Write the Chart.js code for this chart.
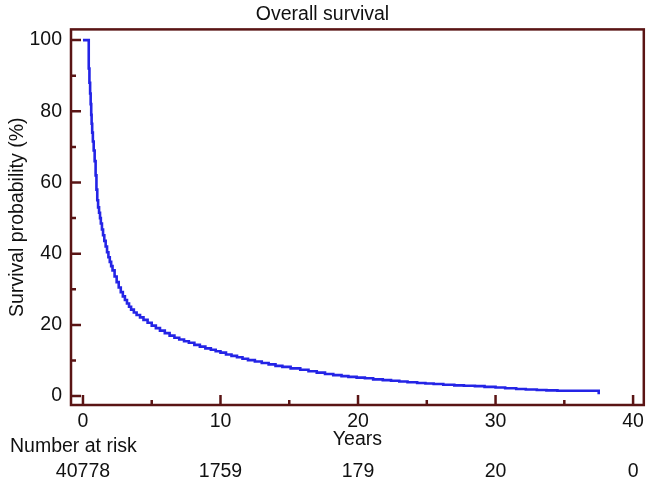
<!DOCTYPE html>
<html>
<head>
<meta charset="utf-8">
<script src="https://cdn.jsdelivr.net/npm/chart.js@4.4.1/dist/chart.umd.min.js"></script>
<style>
  html, body { margin: 0; padding: 0; background: #fff; }
  #wrap { width: 649px; height: 488px; }
</style>
</head>
<body>
<div id="wrap"><canvas id="km"></canvas></div>
<script>
// Kaplan-Meier curve (years, survival %)
const years = [0, 0.42, 0.47, 0.52, 0.56, 0.6, 0.63, 0.67, 0.72, 0.78, 0.85, 0.92, 0.98, 1.04, 1.1,
  1.17, 1.24, 1.3, 1.38, 1.46, 1.55, 1.65, 1.75, 1.85, 1.95, 2.05, 2.15, 2.3, 2.45, 2.6, 2.75,
  2.9, 3.05, 3.2, 3.35, 3.5, 3.7, 3.9, 4.15, 4.4, 4.7, 5.0, 5.3, 5.6, 5.95, 6.3, 6.65, 7.0,
  7.35, 7.7, 8.1, 8.5, 8.9, 9.3, 9.65, 10.0, 10.4, 10.8, 11.2, 11.6, 12.0, 12.5, 13.0, 13.5,
  14.0, 14.5, 15.1, 15.8, 16.4, 17.0, 17.6, 18.2, 18.8, 19.3, 19.9, 20.5, 21.1, 21.8, 22.4,
  23.0, 23.6, 24.3, 24.9, 25.5, 26.2, 27.0, 27.7, 28.5, 29.2, 30.0, 30.7, 31.5, 32.2, 33.0,
  33.7, 34.5, 37.5, 37.5];
const survival = [100, 92, 88, 85, 82, 79, 76.5, 74, 71.5, 69, 66, 62, 58, 55, 53,
  51.5, 50, 48.5, 46.8, 45.2, 43.6, 42, 40.4, 39, 37.7, 36.5, 35.3, 33.6, 32, 30.5, 29.2,
  28, 27, 26, 25.1, 24.3, 23.5, 22.8, 22.1, 21.4, 20.6, 19.8, 19.1, 18.4, 17.7, 17.0, 16.4, 15.9,
  15.4, 15.0, 14.4, 13.9, 13.4, 13.0, 12.6, 12.2, 11.7, 11.3, 10.9, 10.5, 10.1, 9.7, 9.3, 8.9,
  8.5, 8.2, 7.8, 7.4, 7.0, 6.6, 6.2, 5.9, 5.6, 5.4, 5.2, 5.0, 4.7, 4.5, 4.3,
  4.1, 3.9, 3.7, 3.55, 3.4, 3.2, 3.0, 2.9, 2.8, 2.6, 2.4, 2.2, 2.0, 1.85, 1.7,
  1.6, 1.5, 1.5, 0.5];

const xTicks = [0, 10, 20, 30, 40];
const yTicks = [0, 20, 40, 60, 80, 100];

// number at risk table
const riskYears = [0, 10, 20, 30, 40];
const riskCounts = [40778, 1759, 179, 20, 0];

const axisColor = '#5a1414';
const font = 'Liberation Sans, Arial, Helvetica, sans-serif';
const fs = 19.5;

// frame, inward ticks and the number-at-risk row
const framePlugin = {
  id: 'frame',
  afterDraw(chart) {
    const {ctx, chartArea: a, scales: {x, y}} = chart;
    ctx.save();
    ctx.strokeStyle = axisColor;
    ctx.lineWidth = 2.5;
    ctx.strokeRect(a.left, a.top, a.right - a.left, a.bottom - a.top);

    ctx.beginPath();
    yTicks.forEach((v, i) => {
      const py = y.getPixelForValue(v);
      ctx.moveTo(a.left, py); ctx.lineTo(a.left + 10, py);
      if (i < yTicks.length - 1) {
        const pm = y.getPixelForValue((v + yTicks[i + 1]) / 2);
        ctx.moveTo(a.left, pm); ctx.lineTo(a.left + 5, pm);
      }
    });
    xTicks.forEach((v, i) => {
      const px = x.getPixelForValue(v);
      ctx.moveTo(px, a.bottom); ctx.lineTo(px, a.bottom - 10);
      if (i < xTicks.length - 1) {
        const pm = x.getPixelForValue((v + xTicks[i + 1]) / 2);
        ctx.moveTo(pm, a.bottom); ctx.lineTo(pm, a.bottom - 5);
      }
    });
    ctx.stroke();

    ctx.fillStyle = '#111';
    ctx.font = fs + 'px ' + font;
    ctx.textBaseline = 'middle';
    ctx.textAlign = 'left';
    ctx.fillText('Number at risk', 10, 447);
    ctx.textAlign = 'center';
    riskYears.forEach((t, i) => {
      ctx.fillText(String(riskCounts[i]), x.getPixelForValue(t), 472);
    });
    ctx.restore();
  }
};

new Chart(document.getElementById('km'), {
  type: 'line',
  data: {
    datasets: [{
      data: years.map((t, i) => ({x: t, y: survival[i]})),
      borderColor: '#2424e6',
      borderWidth: 2.6,
      stepped: true,
      pointRadius: 0,
      fill: false
    }]
  },
  options: {
    responsive: true,
    maintainAspectRatio: false,
    animation: false,
    layout: {padding: {left: 0, right: 4, top: 0, bottom: 37}},
    plugins: {
      legend: {display: false},
      tooltip: {enabled: false},
      title: {
        display: true,
        text: 'Overall survival',
        color: '#111',
        font: {family: font, size: fs, weight: 'normal'},
        padding: {top: 3, bottom: 3}
      }
    },
    scales: {
      x: {
        type: 'linear',
        min: -0.87,
        max: 40.78,
        afterBuildTicks: s => { s.ticks = xTicks.map(v => ({value: v})); },
        afterFit: s => { s.height = 46; },
        grid: {display: false, drawTicks: false},
        border: {display: false},
        ticks: {color: '#111', padding: 5, font: {family: font, size: fs}, maxRotation: 0},
        title: {
          display: true,
          text: 'Years',
          color: '#111',
          font: {family: font, size: fs},
          padding: {top: 0, bottom: 0}
        }
      },
      y: {
        min: -2.5,
        max: 103,
        afterBuildTicks: s => { s.ticks = yTicks.map(v => ({value: v})); },
        afterFit: s => { s.width = 71; },
        grid: {display: false, drawTicks: false},
        border: {display: false},
        ticks: {color: '#111', padding: 9, font: {family: font, size: fs}},
        title: {
          display: true,
          text: 'Survival probability (%)',
          color: '#111',
          font: {family: font, size: fs},
          padding: {top: 6, bottom: 0}
        }
      }
    }
  },
  plugins: [framePlugin]
});
</script>
</body>
</html>
